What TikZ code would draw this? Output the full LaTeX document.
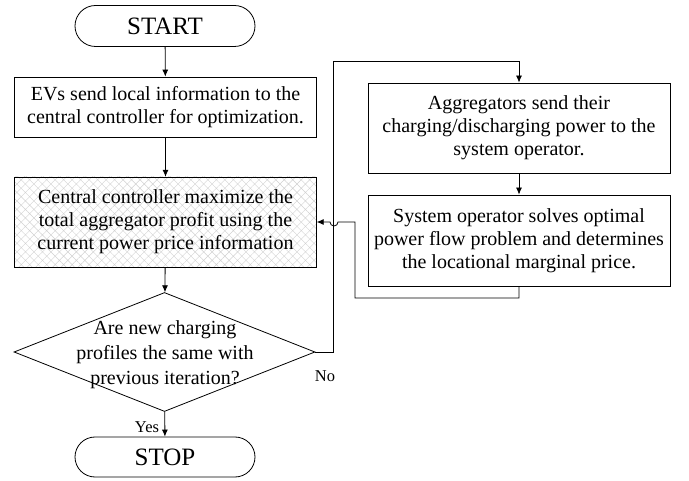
\documentclass[tikz,border=0pt]{standalone}
\usepackage{fontspec}
\setmainfont{Liberation Serif}
\usetikzlibrary{shapes.geometric,shapes.misc,arrows.meta,patterns.meta}
\begin{document}
\begin{tikzpicture}[x=1pt,y=-1pt,
  box/.style={draw, line width=0.8pt, inner sep=0pt, align=center, font=\fontsize{20}{23}\selectfont, minimum width=302pt},
  term/.style={draw, line width=0.8pt, rounded rectangle, minimum width=180pt, minimum height=41pt, font=\fontsize{25}{28}\selectfont, inner sep=0pt},
  arr/.style={line width=0.8pt, -{Latex[length=7pt,width=6pt]}},
  conn/.style={line width=0.8pt},
  lbl/.style={font=\fontsize{16.5}{19}\selectfont, inner sep=0pt}]
\useasboundingbox (0,0) rectangle (689,481);
\node[term] (start) at (165,26) {START};
\node[box, minimum height=60pt] (evs) at (165.5,107) {EVs send local information to the\\central controller for optimization.};
\node[box, minimum height=90pt, pattern={Hatch[angle=45,distance=6pt,line width=0.4pt]}, pattern color=black!18] (cc) at (165.5,222) {Central controller maximize the\\total aggregator profit using the\\current power price information};
\node[draw, diamond, minimum width=301pt, minimum height=119pt, inner sep=0pt, line width=0.8pt] (dec) at (164.5,352) {};
\node[align=center, font=\fontsize{20}{25}\selectfont, inner sep=0pt] (dect) at (165,355) {Are new charging\\profiles the same with\\previous iteration?};
\node[term, minimum height=40pt] (stop) at (165,457) {STOP};
\node[box, minimum height=90pt] (agg) at (519,128) {Aggregators send their\\charging/discharging power to the\\system operator.};
\node[box, minimum height=91pt] (so) at (519,240.5) {System operator solves optimal\\power flow problem and determines\\the locational marginal price.};
\node[lbl] (yes) at (147,427) {Yes};
\node[lbl] (no) at (325,376) {No};
\coordinate (n1) at (333,61);
\coordinate (f1) at (355,298);
\coordinate (f2) at (355,222);
\coordinate (h1) at (338,222);
\draw[arr] (start) -- (evs);
\draw[arr] (evs) -- (cc);
\draw[arr] (cc) -- (dec);
\draw[arr] (dec) -- (stop);
\draw[arr] (agg) -- (so);
\draw[arr] (dec.east) -| (n1) -| (agg.north);
\draw[arr] (so.south) |- (f1) -- (f2) -- (h1) arc (0:-180:4pt) -- (cc.east);
\end{tikzpicture}
\end{document}
